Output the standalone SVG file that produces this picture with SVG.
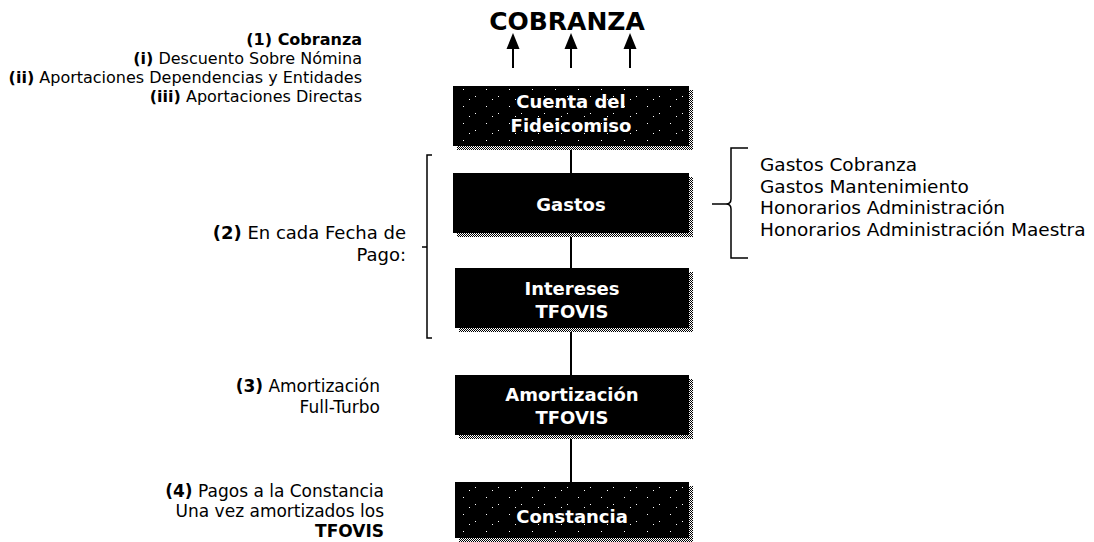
<svg xmlns="http://www.w3.org/2000/svg" width="1094" height="542" viewBox="0 0 1094 542">
<style>
  .t { font-family: "DejaVu Sans", Verdana, sans-serif; font-size: 16px; fill: #000; }
  .t17 { font-family: "DejaVu Sans", Verdana, sans-serif; font-size: 17px; fill: #000; }
  .t18 { font-family: "DejaVu Sans", Verdana, sans-serif; font-size: 18px; fill: #000; }
  .r { font-family: "DejaVu Sans", Verdana, sans-serif; font-size: 18.5px; fill: #000; }
  .b { font-weight: bold; }
  .bx { font-family: "DejaVu Sans", Verdana, sans-serif; font-size: 18px; font-weight: bold; fill: #fff; text-anchor: middle; }
  .title { font-family: "DejaVu Sans", Verdana, sans-serif; font-size: 25px; font-weight: bold; fill: #000; text-anchor: middle; }
  .box { fill: #000; }
  .shadow { fill: url(#checker); }
  .speck { fill: url(#speckle); }
  .ln { stroke: #000; stroke-width: 2; fill: none; }
  .br { stroke: #000; stroke-width: 1.5; fill: none; }
</style>
<defs>
  <pattern id="checker" width="2" height="2" patternUnits="userSpaceOnUse">
    <rect width="2" height="2" fill="#fff"/>
    <rect width="1" height="1" fill="#000"/>
    <rect x="1" y="1" width="1" height="1" fill="#000"/>
  </pattern>
  <pattern id="speckle" width="23" height="17" patternUnits="userSpaceOnUse">
    <rect x="3" y="4" width="1" height="1" fill="#fff"/>
    <rect x="15" y="11" width="1" height="1" fill="#fff"/>
    <rect x="9" y="14" width="1" height="1" fill="#fff"/>
  </pattern>
</defs>

<g id="title">
  <text class="title" x="567" y="30">COBRANZA</text>
</g>

<g id="connectors">
  <line class="ln" x1="513" y1="68" x2="513" y2="47"/>
  <path d="M506.5,49 L513,33 L519.5,49 Z" fill="#000"/>
  <line class="ln" x1="571" y1="68" x2="571" y2="47"/>
  <path d="M564.5,49 L571,33 L577.5,49 Z" fill="#000"/>
  <line class="ln" x1="630" y1="68" x2="630" y2="47"/>
  <path d="M623.5,49 L630,33 L636.5,49 Z" fill="#000"/>
  <line class="ln" x1="571" y1="146" x2="571" y2="173"/>
  <line class="ln" x1="571" y1="233" x2="571" y2="268"/>
  <line class="ln" x1="571" y1="328" x2="571" y2="375"/>
  <line class="ln" x1="571" y1="435" x2="571" y2="482"/>
</g>

<g id="brackets">
  <path class="br" d="M432,155 H427 V338 H432 M427,247 H422"/>
  <path class="br" d="M748,148 H731 V199 Q731,204 726,204 H712 M726,204 Q731,204 731,209 V258 H748"/>
</g>

<g id="node-cuenta">
  <rect class="shadow" x="457" y="90" width="236" height="60"/>
  <rect class="box" x="453" y="86" width="236" height="60"/>
  <rect class="speck" x="453" y="86" width="236" height="60"/>
  <text class="bx" x="571" y="108">Cuenta del</text>
  <text class="bx" x="571" y="132">Fideicomiso</text>
</g>

<g id="node-gastos">
  <rect class="shadow" x="457" y="177" width="236" height="60"/>
  <rect class="box" x="453" y="173" width="236" height="60"/>
  <text class="bx" x="571" y="211">Gastos</text>
</g>

<g id="node-intereses">
  <rect class="shadow" x="459" y="272" width="234" height="60"/>
  <rect class="box" x="455" y="268" width="234" height="60"/>
  <text class="bx" x="572" y="295">Intereses</text>
  <text class="bx" x="572" y="318">TFOVIS</text>
</g>

<g id="node-amortizacion">
  <rect class="shadow" x="459" y="379" width="234" height="60"/>
  <rect class="box" x="455" y="375" width="234" height="60"/>
  <text class="bx" x="572" y="401">Amortización</text>
  <text class="bx" x="572" y="424">TFOVIS</text>
</g>

<g id="node-constancia">
  <rect class="shadow" x="459" y="486" width="234" height="56"/>
  <rect class="box" x="455" y="482" width="234" height="56"/>
  <rect class="speck" x="455" y="482" width="234" height="56"/>
  <text class="bx" x="572" y="523">Constancia</text>
</g>

<g id="label-1">
  <text class="t" text-anchor="end" x="362" y="45"><tspan class="b">(1) Cobranza</tspan></text>
  <text class="t" text-anchor="end" x="362" y="64"><tspan class="b">(i)</tspan> Descuento Sobre Nómina</text>
  <text class="t" text-anchor="end" x="362" y="83"><tspan class="b">(ii)</tspan> Aportaciones Dependencias y Entidades</text>
  <text class="t" text-anchor="end" x="362" y="102"><tspan class="b">(iii)</tspan> Aportaciones Directas</text>
</g>

<g id="label-2">
  <text class="t18" text-anchor="end" x="406" y="239"><tspan class="b">(2)</tspan> En cada Fecha de</text>
  <text class="t18" text-anchor="end" x="406" y="261">Pago:</text>
</g>

<g id="label-3">
  <text class="t17" text-anchor="end" x="380" y="392"><tspan class="b">(3)</tspan> Amortización</text>
  <text class="t17" text-anchor="end" x="380" y="413">Full-Turbo</text>
</g>

<g id="label-4">
  <text class="t17" text-anchor="end" x="384" y="497"><tspan class="b">(4)</tspan> Pagos a la Constancia</text>
  <text class="t17" text-anchor="end" x="384" y="517">Una vez amortizados los</text>
  <text class="t17" text-anchor="end" x="384" y="537"><tspan class="b">TFOVIS</tspan></text>
</g>

<g id="label-gastos">
  <text class="r" x="760" y="171">Gastos Cobranza</text>
  <text class="r" x="760" y="193">Gastos Mantenimiento</text>
  <text class="r" x="760" y="214">Honorarios Administración</text>
  <text class="r" x="760" y="236">Honorarios Administración Maestra</text>
</g>
</svg>
